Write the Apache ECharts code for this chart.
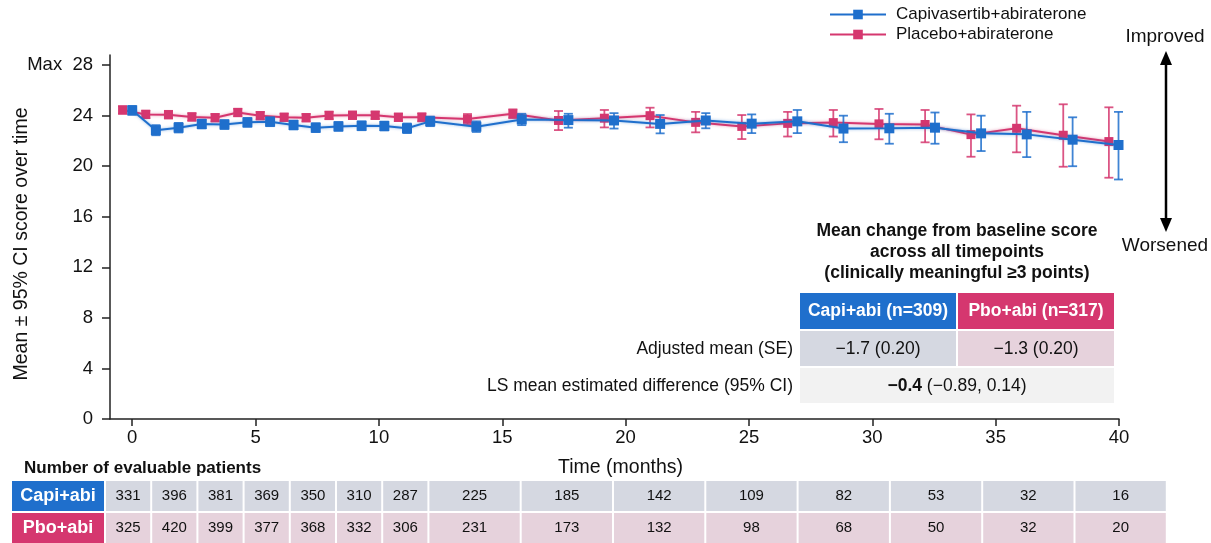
<!DOCTYPE html>
<html><head><meta charset="utf-8">
<script src="https://cdn.jsdelivr.net/npm/echarts@6/dist/echarts.min.js"></script>
<style>html,body{margin:0;padding:0;background:#fff}#c{width:1211px;height:543px}</style>
</head><body><div id="c"></div>
<script>
// ---- data ----
const capiName = 'Capivasertib+abiraterone';
const pboName = 'Placebo+abiraterone';
const yAxisTitle = 'Mean \u00b1 95% CI score over time';
const xAxisTitle = 'Time (months)';
const capiTime = [0, 0.96, 1.88, 2.82, 3.74, 4.67, 5.59, 6.54, 7.44, 8.36, 9.3, 10.22, 11.14, 12.08, 13.95, 15.79, 17.68, 19.53, 21.4, 23.25, 25.11, 26.96, 28.83, 30.69, 32.54, 34.41, 36.26, 38.12, 39.98];
const capiMean = [24.42, 22.85, 23.05, 23.34, 23.3, 23.47, 23.52, 23.26, 23.05, 23.15, 23.2, 23.18, 23.0, 23.55, 23.13, 23.7, 23.65, 23.62, 23.35, 23.62, 23.37, 23.55, 22.98, 23.0, 23.05, 22.6, 22.52, 22.1, 21.68];
const capiLow = [24.07, 22.45, 22.67, 22.99, 22.95, 23.12, 23.17, 22.91, 22.7, 22.8, 22.85, 22.83, 22.62, 23.17, 22.71, 23.25, 23.05, 22.98, 22.6, 23.0, 22.62, 22.62, 21.9, 21.78, 21.78, 21.2, 20.72, 20.0, 18.95];
const capiHigh = [24.77, 23.25, 23.43, 23.69, 23.65, 23.82, 23.87, 23.61, 23.4, 23.5, 23.55, 23.53, 23.38, 23.93, 23.55, 24.15, 24.15, 24.2, 24.05, 24.2, 24.1, 24.45, 24.0, 24.15, 24.25, 24.0, 24.3, 23.87, 24.3];
const pboTime = [-0.39, 0.55, 1.47, 2.42, 3.36, 4.28, 5.19, 6.16, 7.05, 7.98, 8.93, 9.85, 10.79, 11.74, 13.59, 15.43, 17.28, 19.14, 20.99, 22.84, 24.71, 26.57, 28.42, 30.27, 32.14, 34.0, 35.85, 37.74, 39.59];
const pboMean = [24.45, 24.1, 24.08, 23.9, 23.84, 24.25, 24.0, 23.87, 23.84, 24.02, 24.03, 24.03, 23.87, 23.87, 23.73, 24.15, 23.62, 23.8, 24.0, 23.47, 23.15, 23.39, 23.45, 23.35, 23.3, 22.5, 23.0, 22.45, 21.95];
const pboLow = [24.15, 23.8, 23.78, 23.6, 23.54, 23.95, 23.7, 23.57, 23.54, 23.72, 23.73, 23.73, 23.57, 23.55, 23.33, 23.8, 22.86, 23.07, 23.07, 22.68, 22.15, 22.35, 22.35, 22.13, 21.89, 20.75, 21.1, 19.96, 19.09];
const pboHigh = [24.75, 24.4, 24.38, 24.2, 24.14, 24.55, 24.3, 24.17, 24.14, 24.32, 24.33, 24.33, 24.17, 24.19, 24.13, 24.5, 24.37, 24.45, 24.63, 24.3, 24.05, 24.3, 24.45, 24.53, 24.45, 24.1, 24.79, 24.9, 24.66];
const xTicks = [0, 5, 10, 15, 20, 25, 30, 35, 40];
const yTicks = [0, 4, 8, 12, 16, 20, 24, 28];
const nRowLabels = ['Capi+abi', 'Pbo+abi'];
const nCapi = [331, 396, 381, 369, 350, 310, 287, 225, 185, 142, 109, 82, 53, 32, 16];
const nPbo = [325, 420, 399, 377, 368, 332, 306, 231, 173, 132, 98, 68, 50, 32, 20];
const insetTitle = ['Mean change from baseline score', 'across all timepoints', '(clinically meaningful \u22653 points)'];
const insetHeaders = ['Capi+abi (n=309)', 'Pbo+abi (n=317)'];
const insetRowLabels = ['Adjusted mean (SE)', 'LS mean estimated difference (95% CI)'];
const insetAdjusted = ['\u22121.7 (0.20)', '\u22121.3 (0.20)'];
const insetDiffBold = '\u22120.4';
const insetDiffRest = ' (\u22120.89, 0.14)';

// ---- style ----
const BLUE = '#1f6fcc';
const PINK = '#d5376f';
const BLUE_CELL = '#d5d8e1';
const PINK_CELL = '#e6d2dc';
const GRAY_CELL = '#f2f2f2';
const FONT = 'Liberation Sans, Arial, sans-serif';

function errRender(color) {
  return function (params, api) {
    const x = api.value(0), lo = api.value(1), hi = api.value(2);
    const a = api.coord([x, lo]), b = api.coord([x, hi]);
    const w = 4.5;
    const style = { stroke: color, lineWidth: 1.8, fill: null, opacity: 0.85 };
    return { type: 'group', children: [
      { type: 'line', shape: { x1: a[0], y1: a[1], x2: b[0], y2: b[1] }, style: style },
      { type: 'line', shape: { x1: a[0] - w, y1: a[1], x2: a[0] + w, y2: a[1] }, style: style },
      { type: 'line', shape: { x1: b[0] - w, y1: b[1], x2: b[0] + w, y2: b[1] }, style: style }
    ]};
  };
}

const graphics = [];
// y axis title
graphics.push({ type: 'text', x: 22, y: 244, rotation: Math.PI / 2, style: { text: yAxisTitle, font: '19.5px ' + FONT, fill: '#111', align: 'center', verticalAlign: 'middle' } });
// arrow
graphics.push({ type: 'text', x: 1165, y: 37, style: { text: 'Improved', font: '19px ' + FONT, fill: '#111', align: 'center', verticalAlign: 'middle' } });
graphics.push({ type: 'text', x: 1165, y: 246, style: { text: 'Worsened', font: '19px ' + FONT, fill: '#111', align: 'center', verticalAlign: 'middle' } });
graphics.push({ type: 'line', shape: { x1: 1166, y1: 62, x2: 1166, y2: 220 }, style: { stroke: '#000', lineWidth: 2.5 } });
graphics.push({ type: 'polygon', shape: { points: [[1166, 51], [1160, 65], [1172, 65]] }, style: { fill: '#000' } });
graphics.push({ type: 'polygon', shape: { points: [[1166, 232], [1160, 218], [1172, 218]] }, style: { fill: '#000' } });
// inset title
insetTitle.forEach(function (t, i) {
  graphics.push({ type: 'text', x: 957, y: 231 + i * 21, style: { text: t, font: 'bold 17.5px ' + FONT, fill: '#111', align: 'center', verticalAlign: 'middle' } });
});
// inset table
const ix = [800, 958], iw = 156;
[BLUE, PINK].forEach(function (c, i) {
  graphics.push({ type: 'rect', shape: { x: ix[i], y: 293, width: iw, height: 36 }, style: { fill: c } });
  graphics.push({ type: 'text', x: ix[i] + iw / 2, y: 311, style: { text: insetHeaders[i], font: 'bold 17.5px ' + FONT, fill: '#fff', align: 'center', verticalAlign: 'middle' } });
});
[BLUE_CELL, PINK_CELL].forEach(function (c, i) {
  graphics.push({ type: 'rect', shape: { x: ix[i], y: 331, width: iw, height: 35 }, style: { fill: c } });
  graphics.push({ type: 'text', x: ix[i] + iw / 2, y: 349, style: { text: insetAdjusted[i], font: '17.5px ' + FONT, fill: '#111', align: 'center', verticalAlign: 'middle' } });
});
graphics.push({ type: 'rect', shape: { x: 800, y: 368, width: 314, height: 35 }, style: { fill: GRAY_CELL } });
graphics.push({ type: 'text', x: 957, y: 386, style: { text: '{b|' + insetDiffBold + '}' + insetDiffRest, font: '17.5px ' + FONT, fill: '#111', align: 'center', verticalAlign: 'middle', rich: { b: { font: 'bold 17.5px ' + FONT, fill: '#111' } } } });
insetRowLabels.forEach(function (t, i) {
  graphics.push({ type: 'text', x: 793, y: 349 + i * 37, style: { text: t, font: '17.5px ' + FONT, fill: '#111', align: 'right', verticalAlign: 'middle' } });
});
// bottom table
graphics.push({ type: 'text', left: 24, top: 460, style: { text: 'Number of evaluable patients', font: 'bold 17px ' + FONT, fill: '#111' } });
const rowsY = [481, 513], rowH = 30;
const rowData = [nCapi, nPbo];
const headColors = [BLUE, PINK], cellColors = [BLUE_CELL, PINK_CELL];
const narrow = 46.2, wide = 92.3, x0 = 106;
rowData.forEach(function (vals, r) {
  graphics.push({ type: 'rect', shape: { x: 12, y: rowsY[r], width: 92, height: rowH }, style: { fill: headColors[r] } });
  graphics.push({ type: 'text', x: 58, y: rowsY[r] + rowH / 2, style: { text: nRowLabels[r], font: 'bold 18px ' + FONT, fill: '#fff', align: 'center', verticalAlign: 'middle' } });
  vals.forEach(function (v, i) {
    let cx, cw;
    if (i < 7) { cx = x0 + i * narrow; cw = narrow - 2; }
    else { cx = x0 + 7 * narrow + (i - 7) * wide; cw = wide - 2; }
    graphics.push({ type: 'rect', shape: { x: cx, y: rowsY[r], width: cw, height: rowH }, style: { fill: cellColors[r] } });
    graphics.push({ type: 'text', x: cx + cw / 2, y: rowsY[r] + rowH / 2, style: { text: String(v), font: '15px ' + FONT, fill: '#111', align: 'center', verticalAlign: 'middle' } });
  });
});

const chart = echarts.init(document.getElementById('c'));
chart.setOption({
  animation: false,
  backgroundColor: '#fff',
  textStyle: { fontFamily: FONT },
  grid: { left: 110, right: 92, top: 55, bottom: 124, containLabel: false, outerBoundsMode: 'none' },
  legend: {
    data: [capiName, pboName], orient: 'vertical', left: 824, top: 1, itemWidth: 56, itemHeight: 12, itemGap: 3,
    textStyle: { fontSize: 17, color: '#111', padding: [0, 0, 0, 5] }
  },
  xAxis: {
    type: 'value', min: -0.9, max: 40,
    name: xAxisTitle, nameLocation: 'middle', nameGap: 39,
    nameTextStyle: { fontSize: 19.5, color: '#111', padding: [0, 0, 0, 12] },
    axisLine: { show: true, onZero: false, lineStyle: { color: '#222', width: 1.5 } },
    axisTick: { show: true, customValues: xTicks, length: 7, lineStyle: { color: '#222', width: 1.5 } },
    axisLabel: { customValues: xTicks, fontSize: 18.5, color: '#111', margin: 9 },
    splitLine: { show: false }
  },
  yAxis: {
    type: 'value', min: 0, max: 28.8,
    axisLine: { show: true, onZero: false, lineStyle: { color: '#222', width: 1.5 } },
    axisTick: { show: true, customValues: yTicks, length: 8, lineStyle: { color: '#222', width: 1.5 } },
    axisLabel: { customValues: yTicks, fontSize: 18.5, color: '#111', margin: 17,
      formatter: function (v) { return v === 28 ? 'Max  28' : String(v); } },
    splitLine: { show: false }
  },
  series: [
    { type: 'custom', name: 'pboErr', renderItem: errRender(PINK), z: 1,
      data: pboTime.map(function (t, i) { return [t, pboLow[i], pboHigh[i]]; }), encode: { x: 0, y: [1, 2] }, silent: true },
    { type: 'line', name: pboName, z: 2, color: PINK, symbol: 'rect', symbolSize: 9,
      data: pboTime.map(function (t, i) { return [t, pboMean[i]]; }),
      lineStyle: { width: 2, color: PINK, shadowBlur: 3, shadowColor: 'rgba(213,55,111,0.5)' },
      itemStyle: { color: PINK } },
    { type: 'custom', name: 'capiErr', renderItem: errRender(BLUE), z: 3,
      data: capiTime.map(function (t, i) { return [t, capiLow[i], capiHigh[i]]; }), encode: { x: 0, y: [1, 2] }, silent: true },
    { type: 'line', name: capiName, z: 4, color: BLUE, symbol: 'rect', symbolSize: 10,
      data: capiTime.map(function (t, i) { return [t, capiMean[i]]; }),
      lineStyle: { width: 2, color: BLUE, shadowBlur: 3, shadowColor: 'rgba(31,111,204,0.5)' },
      itemStyle: { color: BLUE } }
  ],
  graphic: graphics
});
</script>
</body></html>
